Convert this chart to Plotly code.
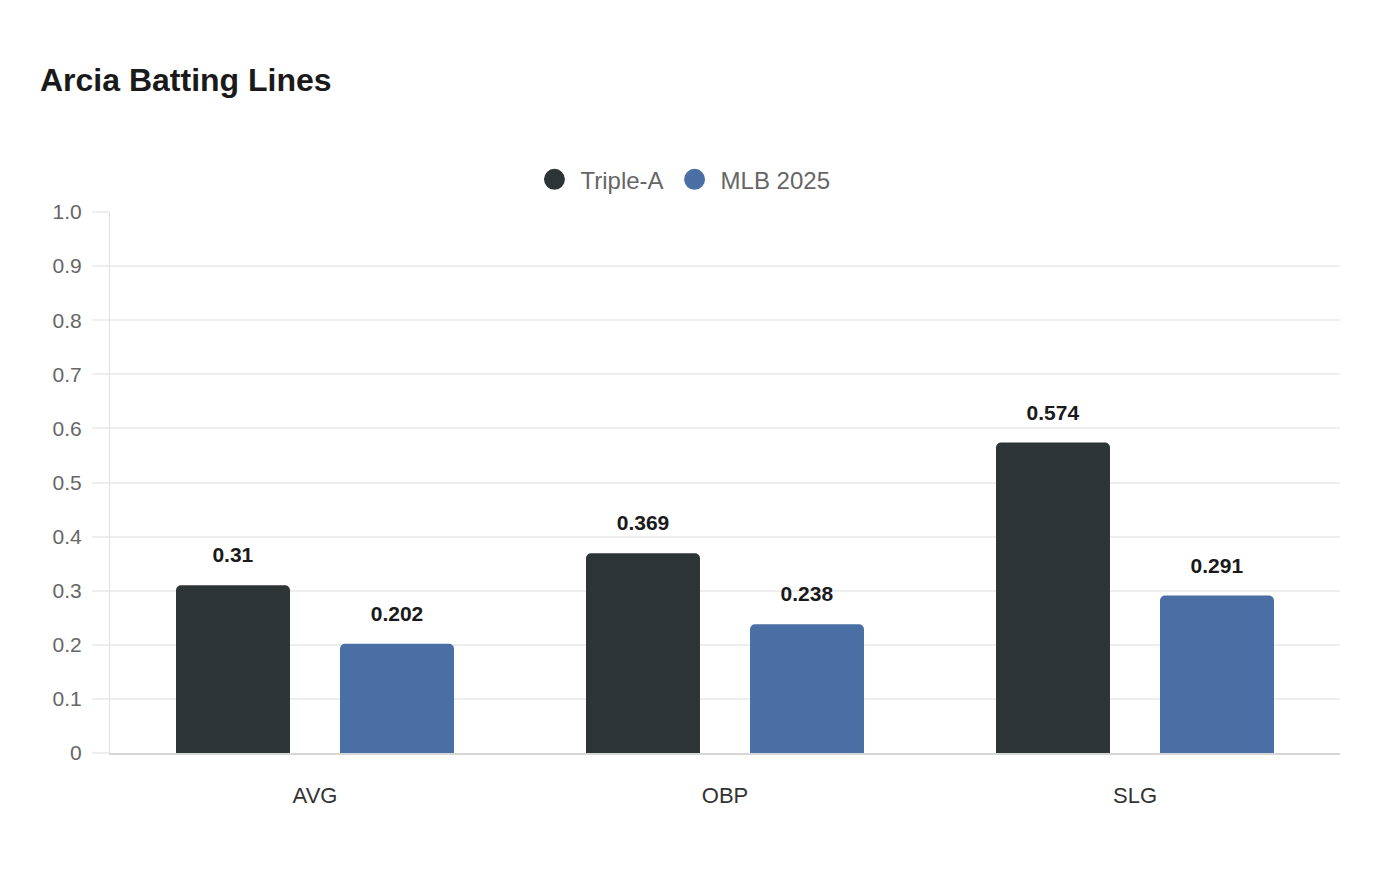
import plotly.graph_objects as go

categories = ["AVG", "OBP", "SLG"]
triple_a = [0.31, 0.369, 0.574]
mlb_2025 = [0.202, 0.238, 0.291]
series_names = ["Triple-A", "MLB 2025"]
colors = ["#2d3436", "#4a6fa5"]
y_ticks = [0, 0.1, 0.2, 0.3, 0.4, 0.5, 0.6, 0.7, 0.8, 0.9, 1.0]
y_tick_labels = ["0", "0.1", "0.2", "0.3", "0.4", "0.5", "0.6", "0.7", "0.8", "0.9", "1.0"]

FONT = "Liberation Sans, Arial, sans-serif"

fig = go.Figure()
for name, vals, col in zip(series_names, [triple_a, mlb_2025], colors):
    fig.add_trace(go.Bar(
        x=categories, y=vals, name=name, marker=dict(color=col, line=dict(width=0)),
        texttemplate="<span style='font-size:21px'><b>%{y}</b></span><br> ",
        textposition="outside",
        textfont=dict(family=FONT, size=13, color="#1a1a1a"),
        cliponaxis=False, showlegend=False, hoverinfo="x+y+name",
    ))
    fig.add_trace(go.Scatter(
        x=[None], y=[None], mode="markers", name=name,
        marker=dict(symbol="circle", size=16, color=col, line=dict(color=col, width=5)),
        showlegend=True,
    ))

fig.update_layout(
    width=1400, height=880,
    paper_bgcolor="white", plot_bgcolor="white",
    margin=dict(l=102, r=68, t=204, b=135),
    barmode="group", bargap=0.2, bargroupgap=0.305, barcornerradius=5,
    title=dict(text="<b>Arcia Batting Lines</b>", x=32/1400, xanchor="left", xref="container",
               y=1 - 72/880, yanchor="middle", yref="container",
               font=dict(family=FONT, size=32, color="#1a1a1a")),
    legend=dict(orientation="h", x=0.465, xanchor="center", y=1.018, yanchor="bottom",
                font=dict(family=FONT, size=24, color="#666666"), itemsizing="trace",
                itemwidth=42, bgcolor="rgba(0,0,0,0)"),
    font=dict(family=FONT),
)
fig.update_xaxes(
    type="category", showgrid=False, showline=True, linecolor="#d6d6d6", linewidth=2,
    ticks="", tickfont=dict(family=FONT, size=22, color="#333333"), ticklabelstandoff=22,
)
fig.update_yaxes(
    range=[0, 1.0], tickvals=y_ticks, ticktext=y_tick_labels,
    showgrid=True, gridcolor="#eeeeee", gridwidth=1.5, zeroline=False,
    showline=True, linecolor="#e0e0e0", linewidth=1,
    ticks="outside", ticklen=17, tickcolor="#eeeeee", tickwidth=1.5,
    tickfont=dict(family=FONT, size=21, color="#666666"), ticklabelstandoff=6,
)

fig.write_html("out.html")
